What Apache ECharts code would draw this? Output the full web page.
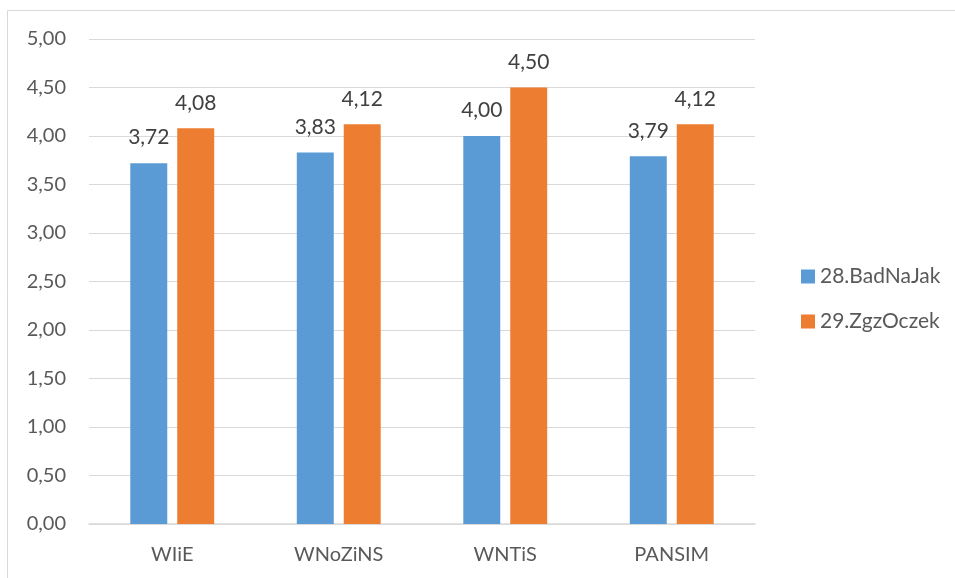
<!DOCTYPE html>
<html><head><meta charset="utf-8">
<script src="https://cdn.jsdelivr.net/npm/echarts@6/dist/echarts.min.js"></script>
<style>html,body{margin:0;padding:0;background:#fff}#c{width:955px;height:578px}</style>
</head><body><div id="c"></div>
<script>
var categories = ['WIiE', 'WNoZiNS', 'WNTiS', 'PANSIM'];
var seriesNames = ['28.BadNaJak', '29.ZgzOczek'];
var values28 = [3.72, 3.83, 4.00, 3.79];
var values29 = [4.08, 4.12, 4.50, 4.12];
var colors = ['#5b9bd5', '#ed7d31'];
var FONT = 'Lato';
var fmt = function (v) { return Number(v).toFixed(2).replace('.', ','); };
var chart = echarts.init(document.getElementById('c'));
chart.setOption({
  animation: false,
  textStyle: { fontFamily: FONT },
  graphic: [{ type: 'rect', shape: { x: 7.5, y: 10.5, width: 1000, height: 1000 }, style: { fill: 'none', stroke: '#d9d9d9', lineWidth: 1 }, silent: true }],
  grid: { left: 89, right: 200, top: 39, bottom: 54 },
  legend: {
    orient: 'vertical', left: 796, top: 261, itemWidth: 14, itemHeight: 14, itemGap: 24,
    icon: 'rect', textStyle: { fontSize: 21, color: '#595959', fontFamily: FONT },
    data: seriesNames
  },
  xAxis: {
    type: 'category', data: categories,
    axisLine: { lineStyle: { color: '#d9d9d9', width: 1.5 } },
    axisTick: { show: false },
    axisLabel: { color: '#595959', fontSize: 20, margin: 21, fontFamily: FONT }
  },
  yAxis: {
    type: 'value', min: 0, max: 5, interval: 0.5,
    axisLine: { show: false }, axisTick: { show: false },
    splitLine: { lineStyle: { color: '#d9d9d9', width: 1 } },
    axisLabel: { color: '#595959', fontSize: 20, margin: 23, formatter: fmt, fontFamily: FONT }
  },
  series: [
    { name: seriesNames[0], type: 'bar', data: values28, barWidth: '22.2%', barGap: '27%',
      itemStyle: { color: colors[0] },
      label: { show: true, position: 'top', distance: 15, color: '#404040', fontSize: 21, formatter: function (p) { return fmt(p.value); }, fontFamily: FONT } },
    { name: seriesNames[1], type: 'bar', data: values29, barWidth: '22.2%', barGap: '27%',
      itemStyle: { color: colors[1] },
      label: { show: true, position: 'top', distance: 15, color: '#404040', fontSize: 21, formatter: function (p) { return fmt(p.value); }, fontFamily: FONT } }
  ]
});
</script></body></html>
